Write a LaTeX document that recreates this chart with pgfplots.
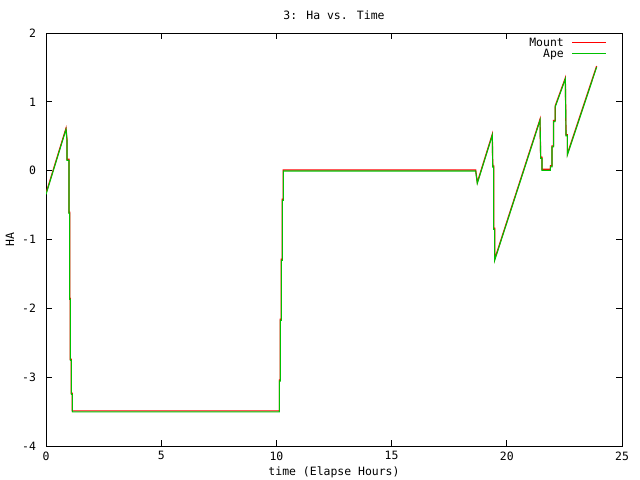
\documentclass[border=0pt]{standalone}
\usepackage{fontspec}
\setmainfont{DejaVu Sans Mono}
\usepackage{pgfplots}
\pgfplotsset{compat=1.18}
\definecolor{gpred}{RGB}{255,0,0}
\definecolor{gpgreen}{RGB}{0,192,0}
\pgfplotstableread{
t y
0 -0.33
0.868 0.615
0.911 0.456
0.911 0.165
0.998 0.165
0.998 -0.605
1.027 -0.605
1.027 -1.855
1.056 -1.855
1.056 -2.741
1.099 -2.741
1.099 -3.235
1.143 -3.235
1.143 -3.49
10.128 -3.49
10.128 -3.041
10.171 -3.041
10.171 -2.160
10.214 -2.160
10.214 -1.288
10.258 -1.288
10.258 -0.416
10.301 -0.416
10.301 0.01
18.649 0.01
18.72 -0.17
19.37 0.528
19.39 0.068
19.43 0.068
19.43 -0.838
19.473 -0.838
19.473 -1.288
21.441 0.746
21.47 0.194
21.528 0.194
21.528 0.02
21.89 0.02
21.89 0.07
21.96 0.07
21.96 0.36
22.03 0.36
22.03 0.73
22.10 0.73
22.10 0.94
22.54 1.346
22.57 0.523
22.628 0.523
22.628 0.242
23.90 1.521
}\mounttable
\pgfplotstableread{
t y
0 -0.345
0.868 0.600
0.911 0.441
0.911 0.150
0.998 0.150
0.998 -0.620
1.027 -0.620
1.027 -1.870
1.056 -1.870
1.056 -2.756
1.099 -2.756
1.099 -3.250
1.143 -3.250
1.143 -3.505
10.128 -3.505
10.128 -3.056
10.171 -3.056
10.171 -2.175
10.214 -2.175
10.214 -1.303
10.258 -1.303
10.258 -0.431
10.301 -0.431
10.301 -0.005
18.649 -0.005
18.72 -0.185
19.37 0.513
19.39 0.053
19.43 0.053
19.43 -0.853
19.473 -0.853
19.473 -1.303
21.441 0.731
21.47 0.179
21.528 0.179
21.528 0.005
21.89 0.005
21.89 0.055
21.96 0.055
21.96 0.345
22.03 0.345
22.03 0.715
22.10 0.715
22.10 0.925
22.54 1.331
22.57 0.508
22.628 0.508
22.628 0.227
23.90 1.506
}\apetable
\begin{document}
\fontsize{11.5pt}{13pt}\selectfont
\begin{tikzpicture}
\useasboundingbox (0,0) rectangle (640bp,480bp);
\begin{axis}[
  at={(46bp,34bp)}, anchor=south west,
  scale only axis, width=576bp, height=413bp,
  xmin=0, xmax=25, ymin=-4, ymax=2,
  xtick={0,5,...,25}, ytick={-4,-3,...,2},
  tick align=inside, xtick pos=both, ytick pos=both,
  major tick length=6bp,
  axis line style={line width=0.8bp},
  every tick/.style={black, line width=0.8bp},
  /pgf/number format/assume math mode=true,
  tick label style={font=\fontsize{11.5pt}{13pt}\selectfont},
  xticklabel style={yshift=-1.5bp},
  yticklabel style={xshift=-6bp},
  title={3: Ha vs. Time},
  title style={at={(axis description cs:0.5,1.0436)}, anchor=center, yshift=-6pt},
  xlabel={time (Elapse Hours)},
  xlabel style={at={(axis description cs:0.5,-0.063)}, anchor=center},
  ylabel={HA},
  ylabel style={at={(axis description cs:-0.0625,0.5)}, anchor=center},
  legend plot pos=right,
  legend cell align=right,
  legend image code/.code={\draw[#1] (0bp,0bp) -- (34bp,0bp);},
  legend style={draw=none, fill=none, at={(1,1)}, anchor=north east,
    xshift=-15.3bp, yshift=-5.5bp, inner sep=0pt, outer sep=0pt,
    row sep=3bp, column sep=7.7bp,
    nodes={inner sep=0pt, text height=7.5bp, text depth=0.5bp},
    font=\fontsize{11.5pt}{13pt}\selectfont},
]
\addplot[gpred, line width=1.2bp] table[x=t, y=y] {\mounttable};
\addlegendentry{Mount}
\addplot[gpgreen, line width=1.1bp] table[x=t, y=y] {\apetable};
\addlegendentry{Ape}
\end{axis}
\end{tikzpicture}
\end{document}
